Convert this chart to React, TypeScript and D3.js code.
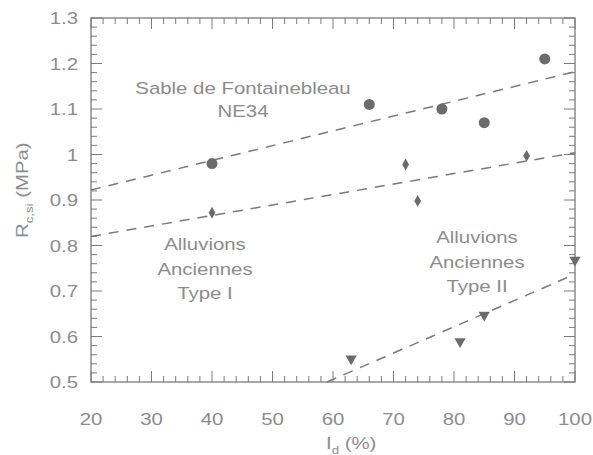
import { useEffect, useRef } from 'react';
import * as d3 from 'd3';

// Sable de Fontainebleau NE34 (circles)
const fontX = [40, 66, 78, 85, 95];
const fontY = [0.98, 1.11, 1.1, 1.07, 1.21];
const fontFit = [[20, 0.922], [100, 1.182]];

// Alluvions Anciennes Type I (diamonds)
const typeIX = [40, 72, 74, 92];
const typeIY = [0.872, 0.978, 0.898, 0.997];
const typeIFit = [[20, 0.82], [100, 1.004]];

// Alluvions Anciennes Type II (down triangles)
const typeIIX = [63, 81, 85, 100];
const typeIIY = [0.551, 0.589, 0.647, 0.768];
const typeIIFit = [[59, 0.5], [100, 0.737]];

const xTicks = [20, 30, 40, 50, 60, 70, 80, 90, 100];
const yTicks = [0.5, 0.6, 0.7, 0.8, 0.9, 1, 1.1, 1.2, 1.3];

const W = 593;
const H = 455;
const margin = { top: 18, right: 18, bottom: 73, left: 91 };
const grey = '#7a7a7a';
const textGrey = '#8c8c8c';
const font = '"Liberation Sans", Arial, sans-serif';
const stretch = 1.2; // the scanned lettering is wider than Arial

export default function App() {
  const ref = useRef<SVGSVGElement>(null);

  useEffect(() => {
    if (!ref.current) return;
    const svg = d3.select(ref.current);
    svg.selectAll('*').remove();

    const x = d3.scaleLinear().domain([20, 100]).range([margin.left, W - margin.right]);
    const y = d3.scaleLinear().domain([0.5, 1.3]).range([H - margin.bottom, margin.top]);
    const [x0, x1] = x.range();
    const [y0, y1] = y.range();

    svg.append('rect').attr('width', W).attr('height', H).attr('fill', '#fff');

    const label = (tx: number, ty: number, anchor: string, size: number, rot = 0) =>
      svg.append('text')
        .attr('transform', `translate(${tx},${ty}) rotate(${rot}) scale(${stretch},1)`)
        .attr('text-anchor', anchor)
        .attr('font-family', font).attr('font-size', size).attr('fill', textGrey);

    // minor/major ticks on all four sides, pointing inward
    const minorX = d3.range(20, 100.001, 2);
    const minorY = d3.range(0.5, 1.3001, 0.02);
    const tg = svg.append('g');
    const tick = (a: number, b: number, c: number, d: number) =>
      tg.append('line')
        .attr('x1', a).attr('y1', b).attr('x2', c).attr('y2', d)
        .attr('stroke', grey).attr('stroke-width', 1);
    minorX.forEach((v) => {
      const major = xTicks.some((t) => Math.abs(t - v) < 1e-6);
      const len = major ? 11 : 6;
      tick(x(v), y0, x(v), y0 - len);
      tick(x(v), y1, x(v), y1 + len);
    });
    minorY.forEach((v) => {
      const major = yTicks.some((t) => Math.abs(t - v) < 1e-6);
      const len = major ? 11 : 6;
      tick(x0, y(v), x0 + len, y(v));
      tick(x1, y(v), x1 - len, y(v));
    });

    svg.append('rect')
      .attr('x', x0).attr('y', y1)
      .attr('width', x1 - x0).attr('height', y0 - y1)
      .attr('fill', 'none').attr('stroke', grey).attr('stroke-width', 1.3);

    // tick labels
    xTicks.forEach((d) => label(x(d), 425, 'middle', 17).text(String(d)));
    yTicks.forEach((d) => label(78, y(d) + 6, 'end', 17).text(String(d)));

    // axis titles
    const xl = label(326, 449, 'start', 17);
    xl.append('tspan').text('I');
    xl.append('tspan').attr('dy', 5).attr('font-size', 11).text('d');
    xl.append('tspan').attr('dy', -5).text(' (%)');

    const yl = label(28, 238, 'start', 17, -90);
    yl.append('tspan').text('R');
    yl.append('tspan').attr('dy', 5).attr('font-size', 11).text('c,si');
    yl.append('tspan').attr('dy', -5).text('  (MPa)');

    // fit lines
    const line = d3.line<number[]>().x((d) => x(d[0])).y((d) => y(d[1]));
    [fontFit, typeIFit, typeIIFit].forEach((f) => {
      svg.append('path')
        .attr('d', line(f))
        .attr('fill', 'none').attr('stroke', grey)
        .attr('stroke-width', 1.5).attr('stroke-dasharray', '10,8');
    });

    const markerFill = '#6b6b6b';
    svg.append('g').selectAll('circle').data(fontX).join('circle')
      .attr('cx', (d) => x(d)).attr('cy', (_, i) => y(fontY[i]))
      .attr('r', 5.5).attr('fill', markerFill);

    const diamond = d3.symbol().type(d3.symbolDiamond).size(40);
    svg.append('g').selectAll('path').data(typeIX).join('path')
      .attr('d', diamond)
      .attr('transform', (d, i) => `translate(${x(d)},${y(typeIY[i])})`)
      .attr('fill', markerFill);

    const tri = d3.symbol().type(d3.symbolTriangle).size(55);
    svg.append('g').selectAll('path').data(typeIIX).join('path')
      .attr('d', tri)
      .attr('transform', (d, i) => `translate(${x(d)},${y(typeIIY[i])}) rotate(180)`)
      .attr('fill', markerFill);

    // annotations
    const note = (lines: string[], cx: number, by: number, step: number) => {
      lines.forEach((t, i) => label(cx, by + i * step, 'middle', 17).text(t));
    };
    note(['Sable de Fontainebleau', 'NE34'], 243, 94, 23);
    note(['Alluvions', 'Anciennes', 'Type I'], 205, 250, 24.5);
    note(['Alluvions', 'Anciennes', 'Type II'], 477, 243, 24.5);
  }, []);

  return (
    <div style={{ position: 'absolute', left: 0, top: 0, width: W, height: H, overflow: 'hidden' }}>
      <svg ref={ref} width={W} height={H} style={{ display: 'block' }} />
    </div>
  );
}
